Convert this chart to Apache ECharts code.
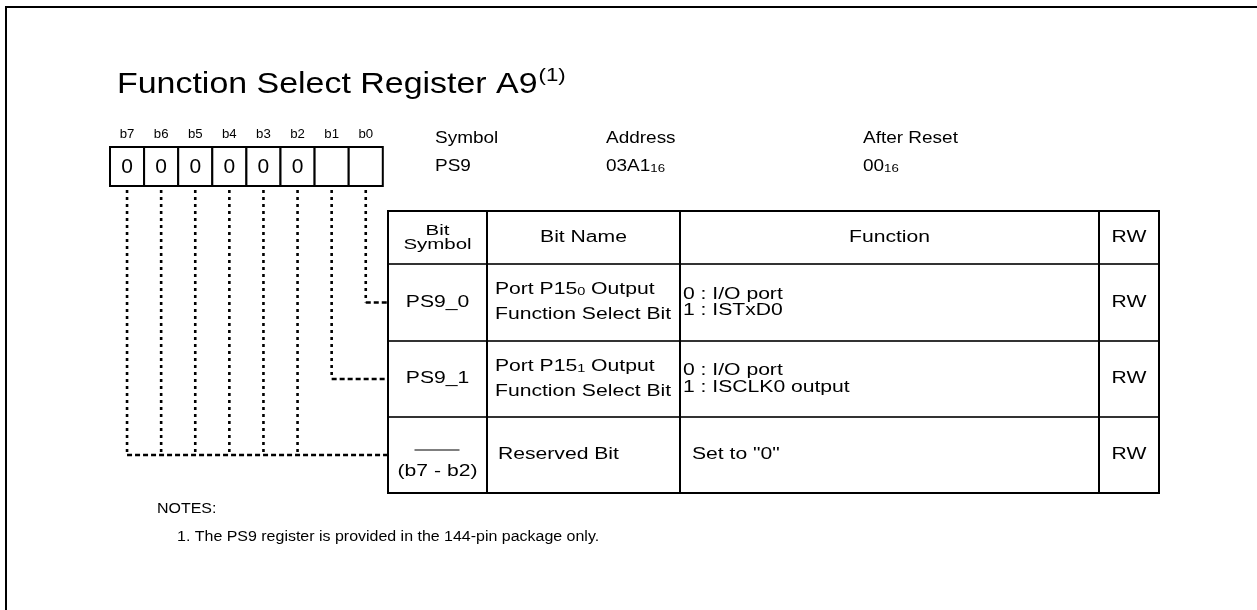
<!DOCTYPE html>
<html><head><meta charset="utf-8">
<script src="https://cdn.jsdelivr.net/npm/echarts@6/dist/echarts.min.js"></script>
<style>html,body{margin:0;padding:0;background:#fff}#c{width:1257px;height:610px}</style>
</head><body><div id="c"></div>
<script>
// ---------- content (data) ----------
const titleText = 'Function Select Register A9';
const titleNote = '(1)';
const bitLabels = ['b7', 'b6', 'b5', 'b4', 'b3', 'b2', 'b1', 'b0'];
const bitValues = ['0', '0', '0', '0', '0', '0', '', ''];
const infoHeaders = ['Symbol', 'Address', 'After Reset'];
const infoValues = ['PS9', '03A1', '00'];
const infoSubs = ['', '16', '16'];
const tableHeaders = ['Bit\nSymbol', 'Bit Name', 'Function', 'RW'];
const rowSymbols = ['PS9_0', 'PS9_1', '(b7 - b2)'];
const rowSymbolBlank = [false, false, true];
const rowNames = ['Port P15{s|0} Output\nFunction Select Bit', 'Port P15{s|1} Output\nFunction Select Bit', 'Reserved Bit'];
const rowFunctions = ['0 : I/O port\n1 : ISTxD0', '0 : I/O port\n1 : ISCLK0 output', 'Set to "0"'];
const rowRW = ['RW', 'RW', 'RW'];
const rowBits = [['b0'], ['b1'], ['b7', 'b6', 'b5', 'b4', 'b3', 'b2']];
const notesHead = 'NOTES:';
const notesLines = ['1. The PS9 register is provided in the 144-pin package only.'];

// ---------- layout ----------
const W = 1257, H = 610;
const FONT = '"Liberation Sans", Arial, Helvetica, sans-serif';
const LY = {
  frameX: 6, frameY: 7,
  titleX: 117, titleY: 85, titleSize: 29, titleSX: 1.17, noteSize: 19, noteRise: 9,
  boxX: 110, boxY: 147, boxW: 34.1, boxH: 39,
  bitLabelY: 134.5, bitSize: 12, bitSX: 1.1, digitSize: 20, digitSX: 1.05,
  infoX: [435, 606, 863], infoHeadY: 138, infoValY: 166, infoSize: 16.5, infoSX: 1.15, subSize: 11.5,
  colX: [388, 487, 680, 1099, 1159], rowY: [211, 264, 341, 417, 493],
  tableSize: 16, tableSX: 1.32, funcLH: 16.5,
  namePad: [8, 8, 11], funcPad: [3, 3, 12],
  leaderTop: 190,
  notesX: 157, notesY: 509, noteX: 177, noteY: 537, notesSize: 15.5, notesSX: 1.03
};

const chart = echarts.init(document.getElementById('c'), null, { renderer: 'canvas' });
const mctx = document.createElement('canvas').getContext('2d');
function measure(text, size) { mctx.font = size + 'px ' + FONT; return mctx.measureText(text).width; }

function C(api, x, y) { return api.coord([x, y]); }
function seg(api, x1, y1, x2, y2, st) {
  const a = C(api, x1, y1), b = C(api, x2, y2);
  return { type: 'line', shape: { x1: a[0], y1: a[1], x2: b[0], y2: b[1] },
    style: Object.assign({ stroke: '#000', lineWidth: 2, fill: null }, st || {}) };
}
function txt(api, x, y, text, st, sx) {
  const p = C(api, x, y);
  return { type: 'text', x: p[0], y: p[1], scaleX: sx || 1, scaleY: 1,
    style: Object.assign({ text: text, fill: '#000', fontSize: 15, fontFamily: FONT,
      textAlign: 'left', textVerticalAlign: 'middle', align: 'left', verticalAlign: 'middle' }, st || {}) };
}
function center(st) { return Object.assign({ textAlign: 'center', align: 'center' }, st || {}); }

const one = [[0, 0]];

const series = [
  // outer frame
  { type: 'custom', data: one, renderItem: (p, api) => ({ type: 'group', children: [
      seg(api, LY.frameX - 1, LY.frameY, W, LY.frameY),
      seg(api, LY.frameX, LY.frameY - 1, LY.frameX, H)
  ] }) },
  // title with note reference
  { type: 'custom', data: one, renderItem: (p, api) => {
      const w = measure(titleText, LY.titleSize) * LY.titleSX;
      return { type: 'group', children: [
        txt(api, LY.titleX, LY.titleY, titleText, { fontSize: LY.titleSize }, LY.titleSX),
        txt(api, LY.titleX + w + 1, LY.titleY - LY.noteRise, titleNote, { fontSize: LY.noteSize }, LY.titleSX)
      ] };
    } },
  // register boxes with bit labels and reset values
  { type: 'custom', data: bitValues.map((v, i) => [i, 0]), renderItem: (p, api) => {
      const i = p.dataIndex;
      const x0 = LY.boxX + i * LY.boxW, x1 = x0 + LY.boxW;
      const a = C(api, x0, LY.boxY), b = C(api, x1, LY.boxY + LY.boxH);
      const cx = (x0 + x1) / 2;
      return { type: 'group', children: [
        { type: 'rect', shape: { x: a[0], y: a[1], width: b[0] - a[0], height: b[1] - a[1] },
          style: { fill: '#fff', stroke: '#000', lineWidth: 2 } },
        txt(api, cx, LY.boxY + LY.boxH / 2 + 1, bitValues[i], center({ fontSize: LY.digitSize }), LY.digitSX),
        txt(api, cx, LY.bitLabelY, bitLabels[i], center({ fontSize: LY.bitSize }), LY.bitSX)
      ] };
    } },
  // symbol / address / after reset
  { type: 'custom', data: infoHeaders.map((v, i) => [i, 0]), renderItem: (p, api) => {
      const i = p.dataIndex;
      return { type: 'group', children: [
        txt(api, LY.infoX[i], LY.infoHeadY, infoHeaders[i], { fontSize: LY.infoSize }, LY.infoSX),
        txt(api, LY.infoX[i], LY.infoValY, infoValues[i] + (infoSubs[i] ? '{s|' + infoSubs[i] + '}' : ''), {
          fontSize: LY.infoSize, rich: { s: { fontSize: LY.subSize, fontFamily: FONT, fill: '#000', padding: [5, 0, 0, 0] } } }, LY.infoSX)
      ] };
    } },
  // dotted leader lines from bits to table rows
  { type: 'custom', data: rowBits.map((v, i) => [i, 0]), renderItem: (p, api) => {
      const r = p.dataIndex;
      const ty = (LY.rowY[r + 1] + LY.rowY[r + 2]) / 2;
      const xs = rowBits[r].map(b => LY.boxX + (bitLabels.indexOf(b) + 0.5) * LY.boxW);
      const ch = xs.map(x => seg(api, x, LY.leaderTop, x, ty, { lineWidth: 2.6, lineDash: [3, 4] }));
      ch.push(seg(api, Math.min.apply(null, xs), ty, LY.colX[0] - 1, ty, { lineWidth: 2.4, lineDash: [5, 3] }));
      return { type: 'group', children: ch };
    } },
  // table grid + header
  { type: 'custom', data: one, renderItem: (p, api) => {
      const cx = LY.colX, ry = LY.rowY, ch = [];
      ry.forEach((y, k) => ch.push(seg(api, cx[0], y, cx[cx.length - 1], y,
        { lineWidth: 2, stroke: (k === 0 || k === ry.length - 1) ? '#000' : '#333' })));
      cx.forEach(x => ch.push(seg(api, x, ry[0] - 1, x, ry[ry.length - 1] + 1, { lineWidth: 2 })));
      const hy = (ry[0] + ry[1]) / 2;
      tableHeaders.forEach((h, j) => {
        const mx = (cx[j] + cx[j + 1]) / 2;
        ch.push(txt(api, mx, hy, h,
          center(j === 0 ? { fontSize: 15.5, lineHeight: 14.5 } : { fontSize: LY.tableSize }), LY.tableSX));
      });
      return { type: 'group', children: ch };
    } },
  // table body rows
  { type: 'custom', data: rowSymbols.map((v, i) => [i, 0]), renderItem: (p, api) => {
      const r = p.dataIndex, cx = LY.colX;
      const y0 = LY.rowY[r + 1], y1 = LY.rowY[r + 2], my = (y0 + y1) / 2;
      const ch = [];
      const sx = (cx[0] + cx[1]) / 2;
      const fs = LY.tableSize, k = LY.tableSX;
      if (rowSymbolBlank[r]) {
        ch.push(seg(api, sx - 23, my - 5, sx + 22, my - 5, { lineWidth: 1.2 }));
        ch.push(txt(api, sx, my + 17, rowSymbols[r], center({ fontSize: fs }), k));
      } else {
        ch.push(txt(api, sx, my, rowSymbols[r], center({ fontSize: fs }), k));
      }
      ch.push(txt(api, cx[1] + LY.namePad[r], my, rowNames[r], {
        fontSize: fs, lineHeight: 25,
        rich: { s: { fontSize: 11, fontFamily: FONT, fill: '#000', padding: [4, 0, 0, 0], lineHeight: 25 } } }, k));
      ch.push(txt(api, cx[2] + LY.funcPad[r], my, rowFunctions[r],
        { fontSize: fs, lineHeight: LY.funcLH }, k));
      ch.push(txt(api, (cx[3] + cx[4]) / 2, my, rowRW[r], center({ fontSize: fs }), k));
      return { type: 'group', children: ch };
    } },
  // notes
  { type: 'custom', data: one, renderItem: (p, api) => {
      const ch = [txt(api, LY.notesX, LY.notesY, notesHead, { fontSize: LY.notesSize }, LY.notesSX)];
      notesLines.forEach((l, k) => ch.push(txt(api, LY.noteX, LY.noteY + k * 20, l, { fontSize: LY.notesSize }, LY.notesSX)));
      return { type: 'group', children: ch };
    } }
];

series.forEach(s => { s.silent = true; s.animation = false; s.clip = false; });

chart.setOption({
  backgroundColor: '#fff',
  animation: false,
  grid: { left: 0, right: 0, top: 0, bottom: 0 },
  xAxis: { type: 'value', min: 0, max: W, show: false },
  yAxis: { type: 'value', min: 0, max: H, inverse: true, show: false },
  series: series
});
</script>
</body></html>
